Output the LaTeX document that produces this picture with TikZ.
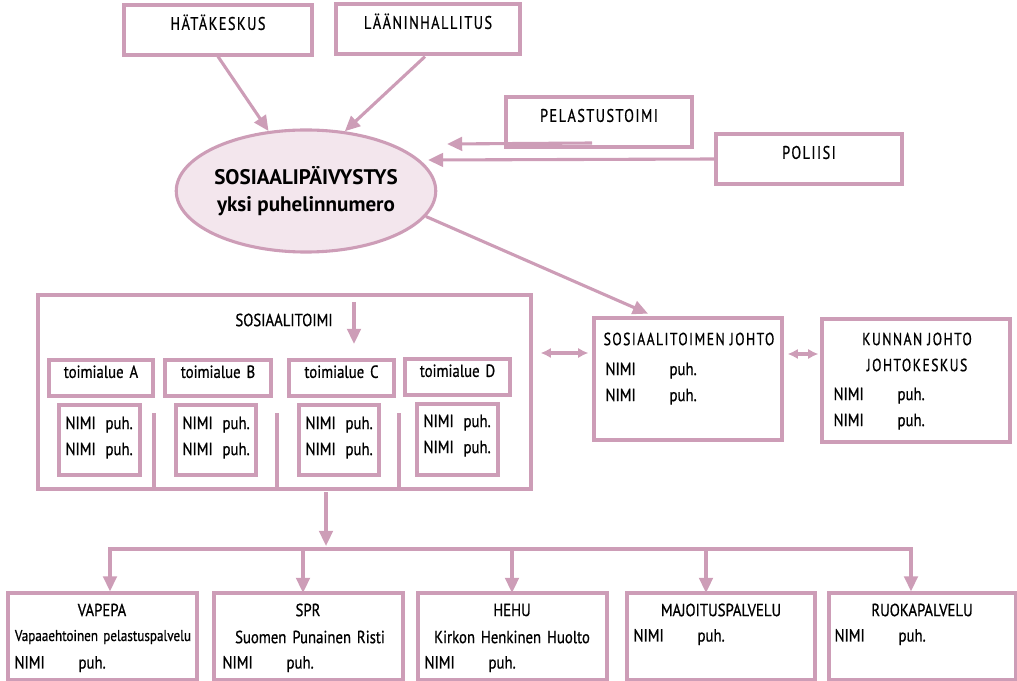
\documentclass[tikz,border=0pt]{standalone}
\usepackage{fontspec}
\setmainfont{PT Sans}[FakeStretch=0.84,FakeBold=0.7,WordSpace=1.5]
\newfontfamily\spacedfont{PT Sans}[LetterSpace=8,FakeStretch=0.78,FakeBold=0.7]
\newfontfamily\boldfont{PT Sans Bold}
\usetikzlibrary{arrows.meta,shapes.geometric,fit}
\definecolor{mauve}{RGB}{205,157,183}
\definecolor{lightmauve}{RGB}{243,230,237}
\newcommand{\nimirow}[1]{\makebox[#1][l]{NIMI}puh.}

\begin{document}
\begin{tikzpicture}[x=0.025cm,y=-0.025cm,line width=2.2pt]
	\tikzstyle{every node} = [inner sep=0pt,text=black,font=\fontsize{12.5}{18.5}\selectfont]
	\tikzstyle{box} = [draw=mauve,line width=2.2pt]
	\tikzstyle{arr} = [draw=mauve,-{Triangle[length=0.38cm,width=0.34cm]}]
	\tikzstyle{dbl} = [draw=mauve,{Latex[length=0.26cm,width=0.26cm]}-{Latex[length=0.26cm,width=0.26cm]}]
	\useasboundingbox (0,0) rectangle (1017,681);

	\node[box,fit={(124,5) (312,55)},font=\fontsize{13}{15}\spacedfont] (hatakeskus) {HÄTÄKESKUS};
	\node[box,fit={(336,4) (520,54)},font=\fontsize{13}{15}\spacedfont] (laanin) {LÄÄNINHALLITUS};
	\node[box,fit={(506,97) (692,147)},font=\fontsize{13}{15}\spacedfont] (pelastus) {PELASTUSTOIMI};
	\node[box,fit={(716,134) (902,184)},font=\fontsize{13}{15}\spacedfont] (poliisi) {POLIISI};

	\node[ellipse,box,fill=lightmauve,minimum width=6.1cm,minimum height=3.05cm,align=center,
		font=\fontsize{15}{19.5}\boldfont] (paivystys) at (306,191)
		{SOSIAALIPÄIVYSTYS\\yksi puhelinnumero};

	\draw[arr] (hatakeskus.south) -- (paivystys.122);
	\draw[arr] (laanin.south) ++(-3,1) -- (paivystys.57);
	\coordinate (pelastusEnd) at (592,143);
	\coordinate (pelastusTip) at (447,144);
	\draw[arr] (pelastusEnd) -- (pelastusTip);
	\coordinate (poliisiTip) at (428,160);
	\draw[arr] (poliisi.west) -- (poliisiTip);

	\node[box,fit={(38,295) (531,489)}] (sostoimi) {};
	\node (sostoimiTitle) at (284,320) {SOSIAALITOIMI};
	\coordinate (innerTop) at (354,302);
	\coordinate (innerTip) at (354,344);
	\draw[arr] (innerTop) -- (innerTip);

	\node[box,fit={(49,360) (153,396)}] (alueA) {toimialue A};
	\node[box,fit={(165,360) (271,396)}] (alueB) {toimialue B};
	\node[box,fit={(289,360) (394,396)}] (alueC) {toimialue C};
	\node[box,fit={(405,359) (510,395)}] (alueD) {toimialue D};
	\node[box,fit={(59,405) (140,475)}] (nimiA) {};
	\node[box,fit={(176,405) (256,475)}] (nimiB) {};
	\node[box,fit={(299,405) (379,475)}] (nimiC) {};
	\node[box,fit={(417,404) (498,475)}] (nimiD) {};
	\node[anchor=north west,align=left] (nimiAtext) at (64,415) {\nimirow{1.0cm}\\\nimirow{1.0cm}};
	\node[anchor=north west,align=left] (nimiBtext) at (181,415) {\nimirow{1.0cm}\\\nimirow{1.0cm}};
	\node[anchor=north west,align=left] (nimiCtext) at (304,415) {\nimirow{1.0cm}\\\nimirow{1.0cm}};
	\node[anchor=north west,align=left] (nimiDtext) at (422,413) {\nimirow{1.0cm}\\\nimirow{1.0cm}};
	\draw[mauve] (154,413) -- (154,489);
	\draw[mauve] (277,413) -- (277,489);
	\draw[mauve] (399,413) -- (399,489);

	\node[box,fit={(594,318) (782,440)}] (johto) {};
	\node[font=\fontsize{12.5}{15}\spacedfont] (johtoTitle) at (689,339) {SOSIAALITOIMEN JOHTO};
	\node[anchor=north west,align=left] (johtoText) at (604,361) {\nimirow{1.6cm}\\\nimirow{1.6cm}};
	\node[box,fit={(822,319) (1010,442)}] (kunta) {};
	\node[align=center,font=\fontsize{12.5}{18.5}\spacedfont] (kuntaTitle) at (917,352) {KUNNAN JOHTO\\JOHTOKESKUS};
	\node[anchor=north west,align=left] (kuntaText) at (832,386) {\nimirow{1.6cm}\\\nimirow{1.6cm}};

	\draw[arr] (paivystys.-12) -- ([xshift=-1cm,yshift=2pt]johto.north);
	\draw[dbl,shorten <=0.2cm,shorten >=0.1cm] (sostoimi.east |- 0,353) -- (johto.west |- 0,353);
	\draw[dbl,shorten <=0.1cm,shorten >=0.05cm] (johto.east |- 0,354) -- (kunta.west |- 0,354);

	\node[box,fit={(8,593) (197,680)}] (vapepa) {};
	\node[box,fit={(214,593) (403,680)}] (spr) {};
	\node[box,fit={(418,593) (607,680)}] (hehu) {};
	\node[box,fit={(627,593) (815,680)}] (majoitus) {};
	\node[box,fit={(829,593) (1016,680)}] (ruoka) {};
	\node (vapepaTitle) at (102,610) {VAPEPA};
	\node[font=\fontsize{11.1}{14}\selectfont] (vapepaSub) at (103,637) {Vapaaehtoinen pelastuspalvelu};
	\node[anchor=west] (vapepaNimi) at (13,664) {\nimirow{1.6cm}};
	\node (sprTitle) at (308,610) {SPR};
	\node (sprSub) at (310,637) {Suomen Punainen Risti};
	\node[anchor=west] (sprNimi) at (221,664) {\nimirow{1.6cm}};
	\node (hehuTitle) at (512,610) {HEHU};
	\node (hehuSub) at (512,637) {Kirkon Henkinen Huolto};
	\node[anchor=west] (hehuNimi) at (423,664) {\nimirow{1.6cm}};
	\node (majoitusTitle) at (721,610) {MAJOITUSPALVELU};
	\node[anchor=west] (majoitusNimi) at (632,637) {\nimirow{1.6cm}};
	\node (ruokaTitle) at (922,610) {RUOKAPALVELU};
	\node[anchor=west] (ruokaNimi) at (833,637) {\nimirow{1.6cm}};

	\coordinate (busTop) at (326,492);
	\coordinate (busTip) at (326,546);
	\draw[arr] (busTop) -- (busTip);
	\coordinate (busLeft) at (110,549);
	\coordinate (busRight) at (911,549);
	\draw[mauve,line cap=rect] (busLeft) -- (busRight);
	\draw[arr] (busLeft) -- (busLeft |- vapepa.north);
	\draw[arr] (303,549) -- (303,593);
	\draw[arr] (512,549) -- (512,593);
	\draw[arr] (706,549) -- (706,593);
	\draw[arr] (busRight) -- (busRight |- ruoka.north);
\end{tikzpicture}
\end{document}
